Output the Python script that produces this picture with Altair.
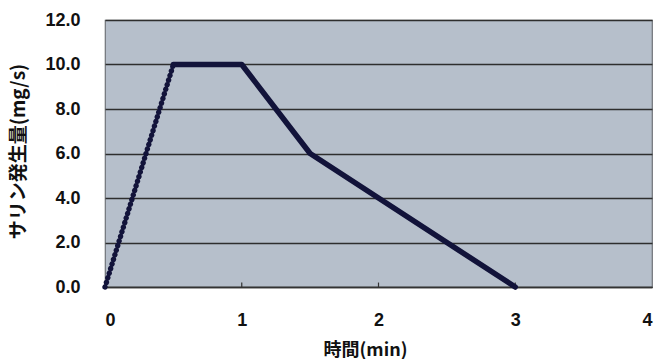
import altair as alt
import pandas as pd

# data
time_min = [0, 0.5, 1, 1.5, 3]
rate_mg_s = [0.0, 10.0, 10.0, 6.0, 0.0]
segment = ["rise", "rise", "main", "main", "main"]
x_minor_ticks = [1, 2, 3]

rows = []
for t, r, s in zip(time_min, rate_mg_s, segment):
    rows.append({"t": t, "r": r, "seg": s})
# the point at 0.5 also starts the solid part
rows.append({"t": 0.5, "r": 10.0, "seg": "main"})
df = pd.DataFrame(rows)
tick_df = pd.DataFrame({"t": x_minor_ticks, "r0": [0.0] * 3, "r1": [0.2] * 3})

LABEL_FONT = "Liberation Sans"
TITLE_FONT = "Noto Sans CJK JP"
LINE_COLOR = "#12133a"
TEXT_COLOR = "#111111"

x_scale = alt.Scale(domain=[0, 4], nice=False, zero=True)
y_scale = alt.Scale(domain=[0, 12], nice=False)

x_axis = alt.Axis(
    title="時間(min)", values=[0, 1, 2, 3, 4], format="d",
    grid=False, ticks=False, domain=True, domainColor="#333333", domainWidth=1.5,
    labelFont=LABEL_FONT, labelFontSize=18, labelFontWeight="bold", labelColor=TEXT_COLOR,
    labelPadding=24,
    titleFont=TITLE_FONT, titleFontSize=18, titleFontWeight="bold", titleColor=TEXT_COLOR,
    titleX=260, titleY=63, titleAlign="center", titleBaseline="middle",
)
y_axis = alt.Axis(
    title="サリン発生量(mg/s)", values=[0, 2, 4, 6, 8, 10, 12], format=".1f",
    grid=True, gridColor="#2e2e2e", gridWidth=1.3,
    ticks=False, domain=False,
    labelFont=LABEL_FONT, labelFontSize=18, labelFontWeight="bold", labelColor=TEXT_COLOR,
    labelPadding=25,
    titleFont=TITLE_FONT, titleFontSize=19, titleFontWeight="bold", titleColor=TEXT_COLOR,
    titleAngle=-90, titleX=-87, titleY=131, titleAlign="center", titleBaseline="middle",
)

base = alt.Chart(df)

main_line = base.transform_filter(alt.datum.seg == "main").mark_line(
    color=LINE_COLOR, strokeWidth=5.5, strokeJoin="round", strokeCap="round"
).encode(
    x=alt.X("t:Q", scale=x_scale, axis=x_axis),
    y=alt.Y("r:Q", scale=y_scale, axis=y_axis),
)

rise_line = base.transform_filter(alt.datum.seg == "rise").mark_line(
    color=LINE_COLOR, strokeWidth=5.4, strokeCap="round", strokeDash=[0.01, 4.8]
).encode(
    x=alt.X("t:Q", scale=x_scale),
    y=alt.Y("r:Q", scale=y_scale),
)

rise_thin = base.transform_filter(alt.datum.seg == "rise").mark_line(
    color=LINE_COLOR, strokeWidth=2.0
).encode(
    x=alt.X("t:Q", scale=x_scale),
    y=alt.Y("r:Q", scale=y_scale),
)

ticks = alt.Chart(tick_df).mark_rule(color="#333333", strokeWidth=1.2).encode(
    x=alt.X("t:Q", scale=x_scale),
    y=alt.Y("r0:Q", scale=y_scale),
    y2="r1:Q",
)

chart = alt.layer(ticks, rise_thin, rise_line, main_line).properties(
    width=547, height=267,
    autosize=alt.AutoSizeParams(type="none"),
    padding={"left": 105, "top": 20, "right": 6, "bottom": 72},
    background="white",
).configure_view(
    fill="#b6bfcb", stroke="#6f7378", strokeWidth=1.2
)

chart.save("out.html", embed_options={"renderer": "svg", "actions": False})
